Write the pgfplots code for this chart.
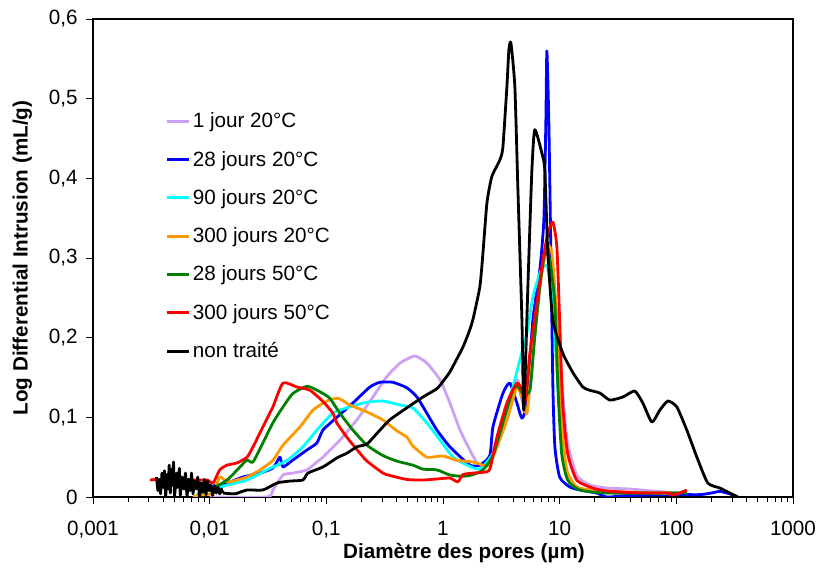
\documentclass[border=0pt]{standalone}
\usepackage{pgfplots}
\pgfplotsset{compat=1.18}
\usepackage{fontspec}
\setmainfont{Liberation Sans}
\definecolor{cLav}{RGB}{204,160,245}
\definecolor{cBlue}{RGB}{0,0,255}
\definecolor{cCyan}{RGB}{0,255,255}
\definecolor{cOrange}{RGB}{255,153,0}
\definecolor{cGreen}{RGB}{0,128,0}
\definecolor{cRed}{RGB}{255,0,0}
\pgfplotsset{curve/.style={line width=2.1pt, line join=round, smooth, tension=0.35}}
\begin{document}
\begin{tikzpicture}
\begin{axis}[
  at={(0,0)}, anchor=south west,
  scale only axis, width=525pt, height=358.5pt,
  xmode=log, xmin=0.001, xmax=1000, ymin=0, ymax=0.6,
  xtick={0.001,0.01,0.1,1,10,100,1000},
  xticklabels={{0,001},{0,01},{0,1},1,10,100,1000},
  ytick={0,0.1,0.2,0.3,0.4,0.5,0.6},
  yticklabels={0,{0,1},{0,2},{0,3},{0,4},{0,5},{0,6}},
  minor y tick num=0,
  tick align=outside, tick pos=left,
  major tick length=5pt, minor tick length=3.5pt,
  every tick/.style={black, line width=0.6pt},
  axis line style={line width=0.8pt},
  tick label style={font=\fontsize{15.5}{18}\selectfont},
  xticklabel style={yshift=-9.5pt},
  yticklabel style={xshift=-3pt},
  xlabel={\textbf{Diamètre des pores (µm)}},
  ylabel={\textbf{Log Differential Intrusion (mL/g)}},
  label style={font=\fontsize{15.5}{18}\selectfont},
  xlabel style={at={(axis description cs:0.53,-0.117)}, anchor=center},
  ylabel style={at={(axis description cs:-0.101,0.5)}, anchor=center},
  legend cell align=left,
  legend style={draw=none, fill=none, at={(0.103,0.81)}, anchor=north west,
    inner sep=0pt, row sep=12pt, font=\fontsize{15.5}{18}\selectfont},
  legend image code/.code={\draw[#1, smooth=false] (0pt,0pt) -- (16.5pt,0pt);},
]
\addplot[cLav, curve] coordinates {
(0.0101,0.0) (0.031,0.0) (0.0348,0.0088) (0.0425,0.0276) (0.0517,0.030) (0.0682,0.034) (0.083,0.044) (0.0935,0.050) (0.131,0.0715) (0.183,0.097) (0.251,0.1255) (0.330,0.151) (0.428,0.168) (0.574,0.177) (0.728,0.168) (0.943,0.147) (1.146,0.118) (1.40,0.084) (1.70,0.059) (1.95,0.043) (2.2,0.0377) (2.52,0.046) (3.26,0.097) (4.30,0.147) (4.6,0.13) (5.24,0.105) (5.89,0.181) (6.76,0.264) (7.77,0.314) (8.75,0.285) (10.0,0.181) (11.5,0.075) (14.0,0.0276) (18.1,0.015) (25.4,0.0113) (40,0.010) (83,0.006) (123,0.005)};
\addlegendentry{1 jour 20°C}
\addplot[cBlue, curve] coordinates {
(0.00778,0.0025) (0.0101,0.0126) (0.0141,0.0176) (0.0193,0.0251) (0.027,0.0301) (0.0349,0.0364) (0.040,0.050) (0.0425,0.0377) (0.0517,0.0464) (0.0682,0.059) (0.083,0.0678) (0.0935,0.084) (0.123,0.100) (0.169,0.118) (0.236,0.138) (0.288,0.144) (0.372,0.144) (0.491,0.137) (0.598,0.1255) (0.728,0.105) (0.887,0.084) (1.146,0.063) (1.70,0.040) (2.07,0.040) (2.52,0.052) (2.68,0.088) (3.26,0.130) (3.74,0.143) (4.30,0.118) (4.75,0.099) (5.24,0.118) (5.89,0.222) (6.76,0.285) (7.32,0.348) (7.62,0.473) (7.77,0.560) (8.07,0.473) (8.41,0.306) (8.75,0.138) (9.10,0.063) (10.0,0.025) (12.2,0.0126) (14.9,0.0088) (20.8,0.005) (25.4,0.0) (40,0.002) (100,0.003) (160,0.003) (200,0.005) (236,0.007) (287,0.004) (336,0.0)};
\addlegendentry{28 jours 20°C}
\addplot[cCyan, curve] coordinates {
(0.00778,0.0025) (0.0101,0.0088) (0.0141,0.015) (0.0209,0.0213) (0.031,0.034) (0.046,0.046) (0.063,0.063) (0.083,0.084) (0.114,0.1054) (0.159,0.113) (0.223,0.119) (0.306,0.1205) (0.428,0.1155) (0.552,0.1117) (0.728,0.0929) (0.943,0.0715) (1.22,0.050) (1.60,0.0402) (2.07,0.0351) (2.68,0.055) (3.26,0.0966) (3.97,0.138) (4.56,0.172) (5.24,0.206) (5.89,0.251) (6.76,0.281) (7.47,0.291) (7.92,0.287) (8.75,0.243) (9.66,0.138) (10.6,0.055) (12.2,0.0176) (17.1,0.0088) (32.8,0.006) (107,0.004)};
\addlegendentry{90 jours 20°C}
\addplot[cOrange, curve] coordinates {
(0.0072,0.0) (0.0083,0.0025) (0.0107,0.005) (0.0122,0.0251) (0.0141,0.0188) (0.0171,0.0213) (0.0209,0.0251) (0.027,0.034) (0.0348,0.046) (0.0425,0.065) (0.0594,0.088) (0.0768,0.109) (0.101,0.1205) (0.126,0.124) (0.159,0.1155) (0.223,0.1067) (0.306,0.0966) (0.403,0.083) (0.491,0.075) (0.552,0.064) (0.728,0.050) (1.0,0.0515) (1.32,0.046) (1.8,0.044) (2.38,0.039) (2.68,0.050) (3.53,0.0966) (4.30,0.138) (4.75,0.125) (5.24,0.1054) (5.89,0.181) (6.76,0.264) (7.77,0.314) (8.58,0.306) (9.46,0.222) (10.4,0.0966) (11.5,0.0339) (14.0,0.0126) (19.2,0.0088) (40,0.006) (110,0.005)};
\addlegendentry{300 jours 20°C}
\addplot[cGreen, curve] coordinates {
(0.0101,0.0088) (0.0141,0.0213) (0.0182,0.0377) (0.0209,0.0464) (0.0235,0.0439) (0.0286,0.0678) (0.0348,0.093) (0.0425,0.113) (0.0517,0.130) (0.0682,0.139) (0.083,0.134) (0.0935,0.130) (0.107,0.124) (0.131,0.105) (0.169,0.084) (0.223,0.065) (0.306,0.052) (0.403,0.045) (0.552,0.040) (0.673,0.035) (0.887,0.034) (1.146,0.0276) (1.48,0.026) (1.8,0.028) (2.2,0.034) (2.68,0.052) (3.26,0.0929) (3.97,0.134) (4.38,0.139) (4.84,0.130) (5.56,0.134) (6.12,0.201) (6.76,0.264) (7.46,0.306) (8.24,0.297) (9.1,0.243) (9.66,0.138) (10.4,0.055) (11.7,0.0213) (14.9,0.0088) (25.4,0.005) (123,0.005)};
\addlegendentry{28 jours 50°C}
\addplot[cRed, curve] coordinates {
(0.00308,0.0213) (0.00354,0.022) (0.0045,0.018) (0.0059,0.022) (0.0072,0.0213) (0.0095,0.0213) (0.0107,0.0176) (0.0122,0.034) (0.0141,0.040) (0.0171,0.0427) (0.0209,0.050) (0.0235,0.0628) (0.0286,0.088) (0.0348,0.113) (0.0425,0.143) (0.0560,0.138) (0.0723,0.134) (0.0935,0.12) (0.114,0.105) (0.123,0.093) (0.150,0.075) (0.194,0.055) (0.223,0.045) (0.306,0.030) (0.351,0.027) (0.491,0.022) (0.673,0.0213) (0.887,0.0226) (1.146,0.0238) (1.34,0.019) (1.48,0.028) (1.8,0.030) (2.2,0.031) (2.52,0.035) (2.9,0.075) (3.53,0.118) (4.30,0.143) (4.75,0.134) (5.04,0.118) (5.56,0.181) (6.38,0.243) (7.18,0.297) (7.92,0.331) (8.75,0.345) (9.46,0.314) (10.0,0.222) (10.6,0.118) (11.7,0.055) (14.0,0.0213) (19.2,0.0113) (25.4,0.0075) (48.6,0.005) (83,0.005) (93.3,0.0025) (107,0.005) (123,0.0088)};
\addlegendentry{300 jours 50°C}
\addplot[black, line width=2.1pt, line join=round, forget plot] coordinates {
(0.0035,0.025) (0.0036,0.008) (0.0037,0.022) (0.0038,0.004) (0.0039,0.03) (0.0040,0.012) (0.0041,0.033) (0.0042,0.0) (0.0043,0.028) (0.0044,0.01) (0.0045,0.04) (0.0046,0.005) (0.0047,0.035) (0.0048,0.015) (0.0049,0.044) (0.0050,0.0) (0.0052,0.03) (0.0053,0.012) (0.0055,0.036) (0.0056,0.002) (0.0058,0.025) (0.0060,0.01) (0.0062,0.03) (0.0064,0.0) (0.0066,0.022) (0.0068,0.008) (0.0070,0.03) (0.0072,0.004) (0.0074,0.02) (0.0077,0.01) (0.0079,0.025) (0.0082,0.0) (0.0084,0.018) (0.0087,0.006) (0.0090,0.022) (0.0093,0.003) (0.0096,0.02) (0.0099,0.008) (0.0102,0.015) (0.0106,0.002) (0.0110,0.014) (0.0114,0.005) (0.0118,0.012) (0.0122,0.004) (0.0126,0.01) (0.0130,0.005)};
\addplot[black, curve] coordinates {
(0.013,0.005) (0.0165,0.004) (0.0209,0.0088) (0.0286,0.0088) (0.0378,0.0176) (0.0488,0.020) (0.063,0.0213) (0.0695,0.030) (0.0935,0.0377) (0.123,0.049) (0.150,0.055) (0.183,0.063) (0.223,0.0665) (0.272,0.080) (0.351,0.097) (0.491,0.112) (0.673,0.1255) (0.887,0.136) (1.0,0.145) (1.146,0.157) (1.30,0.172) (1.48,0.188) (1.65,0.205) (1.8,0.222) (2.07,0.264) (2.2,0.306) (2.38,0.369) (2.62,0.402) (3.07,0.423) (3.26,0.439) (3.53,0.515) (3.67,0.561) (3.82,0.570) (4.13,0.515) (4.38,0.389) (4.75,0.222) (4.93,0.109) (5.34,0.264) (5.78,0.41) (6.12,0.461) (7.03,0.432) (7.46,0.41) (7.92,0.306) (8.75,0.222) (10.6,0.181) (13.0,0.156) (15.8,0.138) (18.1,0.134) (22.1,0.1305) (26.9,0.1217) (34.8,0.1255) (44,0.133) (51.6,0.118) (61.7,0.094) (72.2,0.109) (84.6,0.1205) (101,0.113) (123,0.084) (150,0.050) (186,0.0176) (236,0.0113) (287,0.005) (336,0)};
\addlegendentry{non traité}
\end{axis}
\pgfresetboundingbox
\path[use as bounding box] (-69.75pt,-53.25pt) rectangle (544.5pt,372.75pt);
\end{tikzpicture}
\end{document}
